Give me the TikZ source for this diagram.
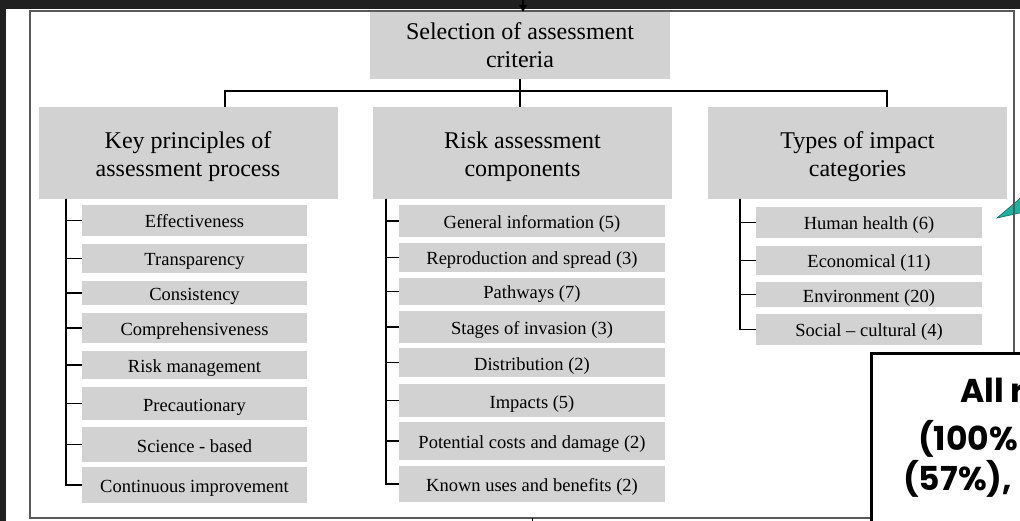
\documentclass[tikz,border=0pt]{standalone}
\usepackage{fontspec}
\setmainfont{Liberation Serif}
\newfontfamily\notefont{Poppins}
\usepackage{xcolor}
\usepackage{tikz}
\usetikzlibrary{arrows.meta, positioning}

\definecolor{boxgray}{RGB}{211,210,211}
\definecolor{pagedark}{RGB}{32,32,32}
\definecolor{callteal}{RGB}{30,176,160}

\tikzset{
  headbox/.style={fill=boxgray, minimum width=299pt, minimum height=92pt, inner sep=0pt,
    align=center, text height=48pt, text depth=0pt, font=\fontsize{24}{28}\selectfont},
  itembox/.style={fill=boxgray, inner sep=0pt, text height=15pt, text depth=0pt,
    font=\fontsize{18.5}{22}\selectfont},
  link/.style={line width=1.5pt, black},
  notetext/.style={inner sep=0pt, font=\notefont\bfseries\fontsize{33}{40}\selectfont},
}

\begin{document}
\begin{tikzpicture}[x=1pt, y=-1pt, >=Stealth]
  \useasboundingbox (0,0) rectangle (1020,521);
  \clip (0,0) rectangle (1020,521);

  % Slide background and white panel
  \fill[pagedark] (0,0) rectangle (1020,521);
  \fill[white] (6,9) rectangle (1020,521);

  % Callout pointer coming in from the right
  \fill[callteal, draw=callteal!60!black, line width=0.6pt] (997,218) -- (1024,195) -- (1024,212) -- cycle;

  % Frame
  \draw[black!65, line width=1.3pt] (30,11) rectangle (1014,518);

  % Root and branch heads
  \node[headbox, minimum width=300pt, minimum height=67pt, text height=45pt] (sel) at (520,45.5) {Selection of assessment\\criteria};
  \node[headbox] (kp) at (188,153) {Key principles of\\assessment process};
  \node[headbox] (rac) at (522.5,153) {Risk assessment\\components};
  \node[headbox] (ti) at (857.5,153) {Types of impact\\categories};

  % Arrow in from above, tick out below
  \coordinate (topin) at (523,-20);
  \draw[link, -{Triangle[width=8pt, length=7pt]}] (topin) -- (topin |- sel.north);
  \coordinate (botin) at (532,518);
  \coordinate (botout) at (532,530);
  \draw[link, line width=1pt] (botin) -- (botout);

  % Bus between root and heads
  \coordinate (busL) at (225,91);
  \coordinate (busR) at (887,91);
  \draw[link] (busL |- kp.north) -- (busL) -- (busR) -- (busR |- ti.north);
  \draw[link] (sel.south) -- (sel.south |- rac.north);

  % Key principles
  \coordinate (kpspine) at (66,199);
  \foreach \n/\y/\h/\t in {kp1/220.5/31/Effectiveness, kp2/258.5/29/Transparency,
      kp3/293/24/Consistency, kp4/328/30/Comprehensiveness, kp5/365/28/Risk management,
      kp6/403.5/33/Precautionary, kp7/444.5/35/Science - based, kp8/485/36/Continuous improvement} {
    \node[itembox, minimum width=225pt, minimum height=\h pt] (\n) at (194.5,\y) {\t};
    \draw[link] (kpspine) |- (\n.west);
  }

  % Risk assessment components
  \coordinate (racspine) at (386,199);
  \foreach \n/\y/\h/\t in {rc1/221/32/General information (5), rc2/257.5/29/Reproduction and spread (3),
      rc3/291.5/27/Pathways (7), rc4/327/32/Stages of invasion (3), rc5/362.5/29/Distribution (2),
      rc6/400.5/33/Impacts (5), rc7/441/38/Potential costs and damage (2), rc8/484/36/Known uses and benefits (2)} {
    \node[itembox, minimum width=266pt, minimum height=\h pt] (\n) at (532,\y) {\t};
    \draw[link] (racspine) |- (\n.west);
  }

  % Types of impact
  \coordinate (tispine) at (740,199);
  \foreach \n/\y/\h/\t in {ti1/222.5/31/Human health (6), ti2/260.5/29/Economical (11),
      ti3/294.5/25/Environment (20), ti4/329.5/31/Social -- cultural (4)} {
    \node[itembox, minimum width=226pt, minimum height=\h pt] (\n) at (869,\y) {\t};
    \draw[link] (tispine) |- (\n.west);
  }

  % Overlapping note box
  \draw[line width=3pt, fill=white] (871,353) rectangle (1040,540);
  \node[notetext, anchor=base west] (note1) at (960,402) {All r};
  \node[notetext, anchor=base west] (note2) at (918,450) {(100\%};
  \node[notetext, anchor=base west] (note3) at (903,490) {(57\%),};
\end{tikzpicture}
\end{document}
